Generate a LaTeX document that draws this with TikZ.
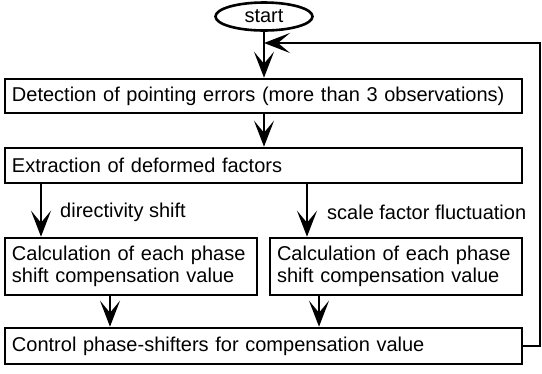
\documentclass[tikz,border=0pt]{standalone}
\usepackage{fontspec}
\setmainfont{Liberation Sans}
\usetikzlibrary{arrows.meta,shapes.geometric}
\tikzset{
  box/.style={draw, line width=2.6pt, inner xsep=7pt, inner ysep=0pt, align=left, font=\fontsize{20}{22}\selectfont},
  arr/.style={line width=2.6pt, -{Stealth[length=26pt,width=20pt,inset=12pt]}},
  lbl/.style={anchor=west, inner sep=0pt, font=\fontsize{20}{22}\selectfont},
}
\begin{document}
\begin{tikzpicture}[x=1pt,y=-1pt]
\useasboundingbox (0,0) rectangle (542,373);
\node[draw, ellipse, line width=2.6pt, minimum width=97pt, minimum height=28pt, inner sep=0pt, font=\fontsize{20}{22}\selectfont] (start) at (264,16.5) {start};
\node[box, minimum width=517pt, minimum height=34pt, text width=503pt] (b1) at (263.5,96) {Detection of pointing errors (more than 3 observations)};
\node[box, minimum width=517pt, minimum height=35pt, text width=503pt] (b2) at (263.5,165.5) {Extraction of deformed factors};
\node[box, minimum width=252pt, minimum height=57pt, text width=238pt] (b3) at (131,266.5) {Calculation of each phase\\shift compensation value};
\node[box, minimum width=252pt, minimum height=57pt, text width=238pt] (b4) at (396,266.5) {Calculation of each phase\\shift compensation value};
\node[box, minimum width=517pt, minimum height=36pt, text width=503pt] (b5) at (263.5,346) {Control phase-shifters for compensation value};
\node[lbl] (l1) at (60,212) {directivity shift};
\node[lbl] (l2) at (327,212) {scale factor fluctuation};
\coordinate (xl) at (41,0);
\coordinate (xr) at (307,0);
\coordinate (xa) at (110,0);
\coordinate (xb) at (319,0);
\coordinate (fb) at (264,43);
\coordinate (fr) at (540,0);
\draw[arr] (start.south) -- (start.south |- b1.north);
\draw[arr] (b1.south -| start.south) -- (b2.north -| start.south);
\draw[arr] (b2.south -| xl) -- (b3.north -| xl);
\draw[arr] (b2.south -| xr) -- (b4.north -| xr);
\draw[arr] (b3.south -| xa) -- (b5.north -| xa);
\draw[arr] (b4.south -| xb) -- (b5.north -| xb);
\draw[arr] (b5.east) -- (b5.east -| fr) -- (fr |- fb) -- (fb);
\end{tikzpicture}
\end{document}
